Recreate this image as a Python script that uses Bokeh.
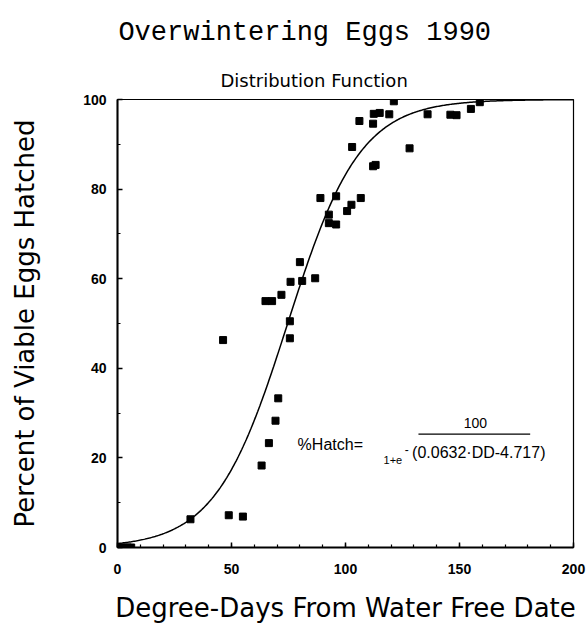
import numpy as np
from bokeh.plotting import figure
from bokeh.layouts import column
from bokeh.models import Range1d, FixedTicker, Label, Title
from bokeh.embed import file_html
from bokeh.resources import INLINE

# ---- data ----
degree_days = [0, 1.5, 3, 4.5, 6,
               32, 48.8, 55, 46.3,
               63.2, 66.4, 69.3, 70.5,
               75.6, 75.6, 64.9, 67.8, 71.9,
               75.9, 81, 86.7, 80,
               89, 92.7, 92.7, 95.9, 95.9,
               100.7, 102.6, 106.7, 102.9,
               106.1, 112.1, 112.1, 113.2,
               112.4, 115, 119.2, 121.2, 128.1,
               136, 146, 148.7, 155, 158.9]
pct_hatched = [0, 0, 0, 0, 0,
               6.3, 7.2, 6.9, 46.3,
               18.3, 23.3, 28.3, 33.3,
               46.7, 50.5, 55.0, 55.0, 56.4,
               59.3, 59.5, 60.1, 63.7,
               78.0, 74.3, 72.4, 72.1, 78.4,
               75.1, 76.5, 78.0, 89.4,
               95.2, 94.6, 85.1, 85.4,
               96.8, 97.0, 96.7, 99.6, 89.1,
               96.7, 96.6, 96.5, 97.9, 99.4]

# fitted model shown on the chart: %Hatch = 100 / (1 + e^-(a*DD - b))
fit_scale = 100
fit_a = 0.0632
fit_b = 4.717
fit_dd = np.linspace(0, 200, 401)
fit_pct = fit_scale / (1 + np.exp(-(fit_a * fit_dd - fit_b)))

x_major = [0, 50, 100, 150, 200]
x_minor = list(range(0, 201, 10))
y_major = [0, 20, 40, 60, 80, 100]
y_minor = list(range(0, 101, 10))

title_text = "Overwintering Eggs 1990"
subtitle_text = "Distribution Function"
x_label = "Degree-Days From Water Free Date"
y_label = "Percent of Viable Eggs Hatched"

W = 588
HEAD_H = 55
MAIN_H = 631 - HEAD_H

x_rng = Range1d(0, 200)

# ---- header figure holding the main title ----
head = figure(width=W, height=HEAD_H, x_range=x_rng, y_range=Range1d(0, HEAD_H),
              output_backend="svg", toolbar_location=None, title=None,
              x_axis_location=None, y_axis_location=None,
              min_border_left=117, min_border_right=15, min_border_top=0, min_border_bottom=0)
head.outline_line_color = None
head.grid.visible = False
head.background_fill_color = "white"
head.border_fill_color = "white"
head.add_layout(Label(x=0.4, y=HEAD_H - 32, text=title_text, text_font="Liberation Mono",
                      text_font_size="27px", text_color="black", text_baseline="alphabetic"))

# ---- main chart ----
p = figure(width=W, height=MAIN_H, x_range=x_rng, y_range=Range1d(0, 100),
           output_backend="svg", toolbar_location=None, title=None,
           min_border_left=117, min_border_right=15, min_border_top=44, min_border_bottom=84)

p.add_layout(Title(text=subtitle_text, align="left", offset=103, vertical_align="bottom",
                   text_font="DejaVu Sans", text_font_size="18px", text_font_style="normal",
                   text_color="black", standoff=17), "above")

p.background_fill_color = "white"
p.border_fill_color = "white"
p.outline_line_color = "black"
p.outline_line_width = 1.2
p.grid.visible = False

for ax in (p.xaxis[0], p.yaxis[0]):
    ax.axis_line_color = "black"
    ax.axis_line_width = 2
    ax.major_tick_in = 5
    ax.major_tick_out = 0
    ax.minor_tick_in = 3
    ax.minor_tick_out = 0
    ax.major_tick_line_width = 1.5
    ax.minor_tick_line_width = 1.2
    ax.major_tick_line_color = "black"
    ax.minor_tick_line_color = "black"
    ax.major_label_text_font = "Liberation Sans"
    ax.major_label_text_font_size = "14px"
    ax.major_label_text_font_style = "bold"
    ax.major_label_text_color = "black"
    ax.axis_label_text_font = "DejaVu Sans"
    ax.axis_label_text_font_size = "26px"
    ax.axis_label_text_font_style = "normal"
    ax.axis_label_text_color = "black"

p.xaxis.ticker = FixedTicker(ticks=x_major, minor_ticks=x_minor)
p.yaxis.ticker = FixedTicker(ticks=y_major, minor_ticks=y_minor)
p.xaxis.axis_label = x_label
p.yaxis.axis_label = y_label
p.xaxis.major_label_standoff = 16
p.xaxis.axis_label_standoff = 16
p.yaxis.major_label_standoff = 11
p.yaxis.axis_label_standoff = 40

p.line(fit_dd, fit_pct, line_color="black", line_width=1.5)
p.scatter(degree_days, pct_hatched, marker="square", size=7,
          fill_color="black", line_color="black")

# formula annotation
p.add_layout(Label(x=79, y=21.2, text="%Hatch=", text_font="Liberation Sans",
                   text_font_size="16px", text_color="black"))
p.add_layout(Label(x=157, y=26.6, text="100", text_font="Liberation Sans",
                   text_font_size="14px", text_color="black", text_align="center"))
p.segment(x0=[132], y0=[25.3], x1=[181], y1=[25.3], line_color="black", line_width=1.3)
p.add_layout(Label(x=116.7, y=18.7, text="1+e", text_font="Liberation Sans",
                   text_font_size="11px", text_color="black"))
p.add_layout(Label(x=126.0, y=20.8, text="-", text_font="Liberation Sans",
                   text_font_size="12px", text_color="black"))
p.add_layout(Label(x=129.2, y=19.2, text="(0.0632·DD-4.717)", text_font="Liberation Sans",
                   text_font_size="16px", text_color="black"))

layout = column(head, p, spacing=0)
open("out.html", "w").write(file_html(layout, INLINE))
